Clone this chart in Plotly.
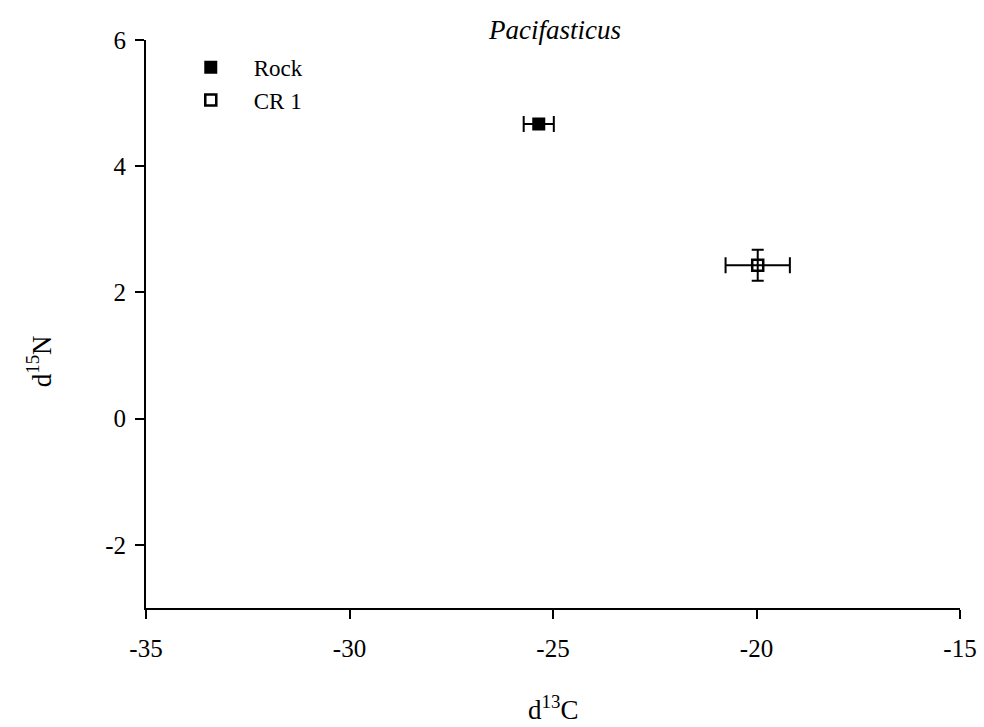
import plotly.graph_objects as go

# Stable isotope means (d13C, d15N) with standard errors
groups = ["Rock", "CR 1"]
d13c = [-25.35, -19.97]
d15n = [4.67, 2.43]
d13c_err = [0.37, 0.79]
d15n_err = [0.0, 0.245]
x_ticks = [-35, -30, -25, -20, -15]
y_ticks = [-2, 0, 2, 4, 6]

FONT = "Liberation Serif"
PAD = "\u00a0" * 4  # extra gap between legend symbol and label

fig = go.Figure()

styles = [
    dict(symbol="square", color="black", line=dict(color="black", width=2)),
    dict(symbol="square-open", color="black", line=dict(color="black", width=2.5)),
]

for i, name in enumerate(groups):
    fig.add_trace(go.Scatter(
        x=[d13c[i]], y=[d15n[i]],
        mode="markers",
        name=PAD + name,
        marker=dict(size=11, **styles[i]),
        error_x=dict(type="data", array=[d13c_err[i]], color="black",
                     thickness=2, width=8, visible=True),
        error_y=dict(type="data", array=[d15n_err[i]], color="black",
                     thickness=2, width=6, visible=d15n_err[i] > 0),
    ))

axis_common = dict(
    showgrid=False, zeroline=False, showline=True, linecolor="black",
    linewidth=2, ticks="outside", ticklen=9, tickwidth=2, tickcolor="black",
    tickfont=dict(family=FONT, size=25, color="black"), automargin=False,
)

fig.update_layout(
    width=984, height=727,
    paper_bgcolor="white", plot_bgcolor="white",
    margin=dict(l=146, r=24, t=40, b=119),
    xaxis=dict(range=[-35, -15], tickvals=x_ticks,
               ticktext=[str(v) for v in x_ticks], ticklabelstandoff=8,
               **axis_common),
    yaxis=dict(range=[-3, 6], tickvals=y_ticks,
               ticktext=[str(v) for v in y_ticks], ticklabelstandoff=4,
               **axis_common),
    showlegend=True,
    legend=dict(x=0.055, y=0.99, xanchor="left", yanchor="top",
                font=dict(family=FONT, size=23, color="black"),
                bgcolor="rgba(0,0,0,0)", itemwidth=30, tracegroupgap=0),
    annotations=[
        dict(text="<i>Pacifasticus</i>", xref="paper", yref="paper",
             x=0.502, y=1.0176, xanchor="center", yanchor="middle",
             showarrow=False, font=dict(family=FONT, size=27, color="black")),
        dict(text="d<sup>13</sup>C", xref="paper", yref="paper",
             x=0.5, y=-0.176, xanchor="center", yanchor="middle",
             showarrow=False, font=dict(family=FONT, size=27, color="black")),
        dict(text="d<sup>15</sup>N", xref="paper", yref="paper",
             x=-0.131, y=0.435, xanchor="center", yanchor="middle",
             textangle=-90, showarrow=False,
             font=dict(family=FONT, size=27, color="black")),
    ],
)

fig.write_html("out.html")
